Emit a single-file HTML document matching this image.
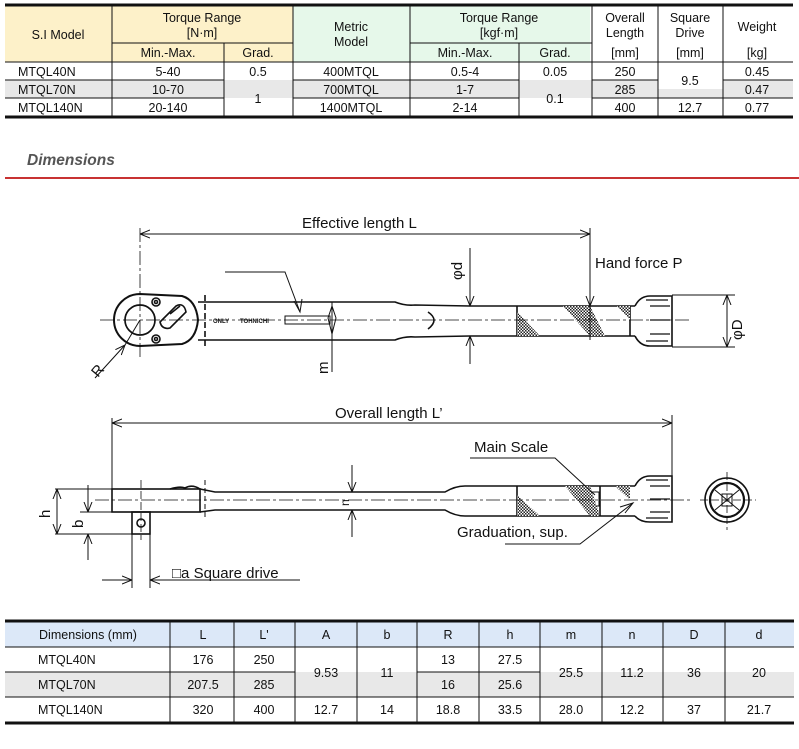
<!DOCTYPE html>
<html><head><meta charset="utf-8"><style>
html,body{margin:0;padding:0;background:#fff;width:799px;height:749px;overflow:hidden}
svg{display:block}
text{font-family:"Liberation Sans",Arial,sans-serif;fill:#111}
</style></head><body>
<svg width="799" height="749" viewBox="0 0 799 749" xmlns="http://www.w3.org/2000/svg">
<defs>
<pattern id="hatch" width="3" height="3" patternUnits="userSpaceOnUse"><rect width="3" height="3" fill="#fff"/><rect width="1.5" height="1.5" fill="#222"/><rect x="1.5" y="1.5" width="1.5" height="1.5" fill="#222"/></pattern>
<marker id="ar" viewBox="0 0 10 10" refX="10" refY="5" markerWidth="10" markerHeight="10" orient="auto-start-reverse" markerUnits="userSpaceOnUse"><path d="M0,1 L10,5 L0,9" fill="none" stroke="#111" stroke-width="1"/></marker>
</defs>

<!-- TOP TABLE -->
<rect x="5" y="6" width="288" height="56" fill="#fdf1c9"/>
<rect x="293" y="6" width="297" height="56" fill="#e6f8ea"/>
<rect x="5" y="80" width="788" height="18" fill="#e8e8e8"/>
<rect x="224" y="89" width="69" height="9" fill="#e8e8e8"/>
<rect x="224" y="98" width="69" height="18" fill="#fff"/>
<rect x="519" y="98" width="73" height="18" fill="#fff"/>
<rect x="658" y="80" width="65" height="9" fill="#fff"/>
<g stroke="#111" stroke-width="1" fill="none">
<line x1="5" y1="5" x2="793" y2="5" stroke-width="3"/>
<line x1="5" y1="117" x2="793" y2="117" stroke-width="3"/>
<line x1="112" y1="43" x2="293" y2="43"/><line x1="410" y1="43" x2="592" y2="43"/>
<line x1="5" y1="62" x2="793" y2="62"/>
<line x1="5" y1="80" x2="224" y2="80"/><line x1="293" y1="80" x2="519" y2="80"/><line x1="592" y1="80" x2="658" y2="80"/><line x1="723" y1="80" x2="793" y2="80"/>
<line x1="5" y1="98" x2="224" y2="98"/><line x1="293" y1="98" x2="519" y2="98"/><line x1="592" y1="98" x2="793" y2="98"/>
<line x1="112" y1="6" x2="112" y2="116"/><line x1="293" y1="6" x2="293" y2="116"/><line x1="410" y1="6" x2="410" y2="116"/>
<line x1="224" y1="43" x2="224" y2="116"/><line x1="519" y1="43" x2="519" y2="116"/>
<line x1="592" y1="6" x2="592" y2="116"/><line x1="658" y1="6" x2="658" y2="116"/><line x1="723" y1="6" x2="723" y2="116"/>
</g>
<g font-size="12.5" text-anchor="middle">
<text x="58" y="39">S.I Model</text>
<text x="202" y="22">Torque Range</text><text x="202" y="37">[N·m]</text>
<text x="168" y="57">Min.-Max.</text><text x="258" y="57">Grad.</text>
<text x="351" y="31">Metric</text><text x="351" y="46">Model</text>
<text x="499" y="22">Torque Range</text><text x="499" y="37">[kgf·m]</text>
<text x="465" y="57">Min.-Max.</text><text x="555" y="57">Grad.</text>
<text x="625" y="22">Overall</text><text x="625" y="37">Length</text><text x="625" y="57">[mm]</text>
<text x="690" y="22">Square</text><text x="690" y="37">Drive</text><text x="690" y="57">[mm]</text>
<text x="757" y="31">Weight</text><text x="757" y="57">[kg]</text>
<text x="168" y="76">5-40</text><text x="168" y="94">10-70</text><text x="168" y="112">20-140</text>
<text x="258" y="76">0.5</text><text x="258" y="103">1</text>
<text x="351" y="76">400MTQL</text><text x="351" y="94">700MTQL</text><text x="351" y="112">1400MTQL</text>
<text x="465" y="76">0.5-4</text><text x="465" y="94">1-7</text><text x="465" y="112">2-14</text>
<text x="555" y="76">0.05</text><text x="555" y="103">0.1</text>
<text x="625" y="76">250</text><text x="625" y="94">285</text><text x="625" y="112">400</text>
<text x="690" y="85">9.5</text><text x="690" y="112">12.7</text>
<text x="757" y="76">0.45</text><text x="757" y="94">0.47</text><text x="757" y="112">0.77</text>
</g>
<g font-size="12.5"><text x="18" y="76">MTQL40N</text><text x="18" y="94">MTQL70N</text><text x="18" y="112">MTQL140N</text></g>

<!-- Dimensions header -->
<text x="27" y="165" font-size="15.5" font-weight="bold" font-style="italic" style="fill:#555">Dimensions</text>
<line x1="5" y1="178" x2="799" y2="178" stroke="#c83232" stroke-width="2"/>

<!-- TOP WRENCH -->
<g stroke="#111" stroke-width="1.6" fill="none">
<path d="M140,294 L182,296 Q196,300 198,320 Q196,340 182,344 L140,346 A26,26 0 0 1 140,294 Z" stroke-width="2"/>
<circle cx="140" cy="320" r="15" stroke-width="1.7"/>
<circle cx="156" cy="302" r="4"/><circle cx="156" cy="302" r="1.5"/>
<circle cx="156" cy="339" r="4"/><circle cx="156" cy="339" r="1.5"/>
<path d="M160,322 L176,306 Q184,302 186,312 L170,328 Q162,330 160,322 Z"/>
<path d="M170,314 L180,306"/>
<path d="M198,302 L395,302 Q405,306 415,305 L470,306 L635,306"/>
<path d="M198,340 L395,340 Q405,336 415,337 L470,336 L635,336"/>
<line x1="205" y1="295" x2="205" y2="346" stroke-dasharray="6,3"/>
<path d="M428,312 Q440,320 428,329"/>
<line x1="517" y1="306" x2="517" y2="336"/>
<line x1="630" y1="306" x2="630" y2="336"/>
<path d="M635,306 Q640,296 650,296 L672,296 L672,346 L650,346 Q640,346 635,336"/>
<path d="M650,306 L670,306 M650,320 L670,320 M650,334 L670,334 M646,300 L668,300 M646,341 L668,341" stroke-width="1.2"/>
<rect x="285" y="316" width="45" height="8" stroke-width="1"/>
</g>
<polygon points="517,312 540,336 517,336" fill="url(#hatch)"/>
<polygon points="563,306 590,306 605,336 590,336" fill="url(#hatch)"/>
<polygon points="617,306 630,306 630,320" fill="url(#hatch)"/>
<text x="213" y="323" font-size="6" font-weight="bold">ONLY</text>
<text x="240" y="323" font-size="6" font-weight="bold">TOHNICHI</text>
<line x1="100" y1="320" x2="690" y2="320" stroke="#111" stroke-width="0.8" stroke-dasharray="14,3,3,3"/>
<line x1="140" y1="228" x2="140" y2="358" stroke="#111" stroke-width="0.8" stroke-dasharray="14,3,3,3"/>
<g stroke="#111" stroke-width="1" fill="none">
<line x1="140" y1="234" x2="590" y2="234" marker-start="url(#ar)" marker-end="url(#ar)"/>
<line x1="590" y1="228" x2="590" y2="236"/>
<line x1="590" y1="234" x2="590" y2="306" marker-end="url(#ar)"/>
<line x1="590" y1="306" x2="590" y2="340"/>
<line x1="470" y1="248" x2="470" y2="306" marker-end="url(#ar)"/>
<line x1="470" y1="364" x2="470" y2="336" marker-end="url(#ar)"/>
<line x1="332" y1="372" x2="332" y2="302" />
<path d="M332,306 L328,318 L332,334 L336,318 Z"/>
<line x1="672" y1="295" x2="735" y2="295"/><line x1="672" y1="347" x2="735" y2="347"/>
<line x1="727" y1="320" x2="727" y2="295" marker-end="url(#ar)"/>
<line x1="727" y1="320" x2="727" y2="347" marker-end="url(#ar)"/>
<polyline points="225,272 285,272 300,312" />
<path d="M294,301 L300,312 L302,299" />
<line x1="95" y1="378" x2="125" y2="345" marker-end="url(#ar)"/>
<line x1="125" y1="345" x2="140" y2="320"/>
</g>
<text x="302" y="228" font-size="15">Effective length L</text>
<text x="595" y="268" font-size="15">Hand force P</text>
<text font-size="15" transform="translate(462,280) rotate(-90)">φd</text>
<text font-size="15" transform="translate(742,340) rotate(-90)">φD</text>
<text font-size="15" transform="translate(328,374) rotate(-90)">m</text>
<text font-size="15" transform="translate(98,378) rotate(-50)">R</text>

<!-- BOTTOM WRENCH -->
<g stroke="#111" stroke-width="1.6" fill="none">
<rect x="112" y="489" width="88" height="23"/>
<path d="M170,489 Q180,486 185,488 Q192,484 200,489"/>
<path d="M200,489 L215,492 L445,492 Q455,486 465,486 L635,486"/>
<path d="M200,512 L215,510 L445,510 Q455,516 465,516 L635,516"/>
<line x1="517" y1="486" x2="517" y2="516"/>
<line x1="600" y1="486" x2="600" y2="516"/>
<line x1="205" y1="480" x2="205" y2="520" stroke-dasharray="5,3" stroke-width="1"/>
<path d="M635,486 Q640,476 650,476 L672,476 L672,522 L650,522 Q640,522 635,516"/>
<path d="M650,486 L670,486 M650,499 L670,499 M650,512 L670,512 M646,480 L668,480 M646,518 L668,518" stroke-width="1.2"/>
<rect x="132" y="512" width="18" height="22"/>
<circle cx="141" cy="523" r="4"/>
<rect x="592" y="492" width="7" height="14" stroke-width="1"/>
<circle cx="727" cy="500" r="22"/><circle cx="727" cy="500" r="17" stroke-width="2.2"/>
<path d="M715,490 L739,510 M739,490 L715,510" stroke-width="1"/>
<rect x="722" y="494" width="10" height="12" stroke-width="1"/>
</g>
<polygon points="517,495 540,516 517,516" fill="url(#hatch)"/>
<polygon points="565,486 590,486 600,516 590,516" fill="url(#hatch)"/>
<polygon points="615,486 630,486 630,500" fill="url(#hatch)"/>
<line x1="95" y1="500" x2="690" y2="500" stroke="#111" stroke-width="0.8" stroke-dasharray="14,3,3,3"/>
<line x1="700" y1="500" x2="756" y2="500" stroke="#111" stroke-width="0.8" stroke-dasharray="8,3"/>
<line x1="727" y1="472" x2="727" y2="530" stroke="#111" stroke-width="0.8" stroke-dasharray="8,3"/>
<line x1="141" y1="480" x2="141" y2="540" stroke="#111" stroke-width="0.8" stroke-dasharray="8,3"/>
<g stroke="#111" stroke-width="1" fill="none">
<line x1="112" y1="423" x2="672" y2="423" marker-start="url(#ar)" marker-end="url(#ar)"/>
<line x1="112" y1="418" x2="112" y2="512"/><line x1="672" y1="415" x2="672" y2="500"/>
<line x1="55" y1="489" x2="112" y2="489"/><line x1="55" y1="534" x2="132" y2="534"/><line x1="80" y1="512" x2="112" y2="512"/>
<line x1="57" y1="511" x2="57" y2="489" marker-end="url(#ar)"/><line x1="57" y1="511" x2="57" y2="534" marker-end="url(#ar)"/>
<line x1="88" y1="485" x2="88" y2="512" marker-end="url(#ar)"/><line x1="88" y1="560" x2="88" y2="534" marker-end="url(#ar)"/>
<line x1="132" y1="534" x2="132" y2="588"/><line x1="150" y1="534" x2="150" y2="588"/>
<line x1="102" y1="580" x2="132" y2="580" marker-end="url(#ar)"/>
<line x1="300" y1="580" x2="150" y2="580" marker-end="url(#ar)"/>
<line x1="352" y1="465" x2="352" y2="492" marker-end="url(#ar)"/>
<line x1="352" y1="537" x2="352" y2="510" marker-end="url(#ar)"/>
<polyline points="470,458 555,458 595,495"/>
<polyline points="505,544 580,544 633,503"/>
<path d="M620,507 L633,503 L625,513"/>
</g>
<text x="335" y="418" font-size="15">Overall length L’</text>
<text x="474" y="452" font-size="15">Main Scale</text>
<text x="457" y="537" font-size="15">Graduation, sup.</text>
<text x="172" y="578" font-size="15">□a Square drive</text>
<text font-size="15" transform="translate(50,518) rotate(-90)">h</text>
<text font-size="15" transform="translate(83,528) rotate(-90)">b</text>
<text font-size="12" transform="translate(349,506) rotate(-90)">n</text>

<!-- BOTTOM TABLE -->
<rect x="5" y="622" width="789" height="25" fill="#dce8f8"/>
<rect x="5" y="672" width="789" height="25" fill="#e8e8e8"/>
<g stroke="#111" stroke-width="1">
<line x1="5" y1="621" x2="794" y2="621" stroke-width="3"/>
<line x1="5" y1="723" x2="794" y2="723" stroke-width="3"/>
<line x1="5" y1="647" x2="794" y2="647"/>
<line x1="5" y1="672" x2="295" y2="672"/><line x1="417" y1="672" x2="540" y2="672"/>
<line x1="5" y1="697" x2="794" y2="697"/>
<line x1="170" y1="622" x2="170" y2="722"/><line x1="234" y1="622" x2="234" y2="722"/><line x1="295" y1="622" x2="295" y2="722"/><line x1="357" y1="622" x2="357" y2="722"/><line x1="417" y1="622" x2="417" y2="722"/><line x1="479" y1="622" x2="479" y2="722"/><line x1="540" y1="622" x2="540" y2="722"/><line x1="602" y1="622" x2="602" y2="722"/><line x1="663" y1="622" x2="663" y2="722"/><line x1="725" y1="622" x2="725" y2="722"/>
</g>
<g font-size="12.5" text-anchor="middle">
<text x="88" y="639">Dimensions (mm)</text>
<text x="203" y="639">L</text><text x="264" y="639">L'</text><text x="326" y="639">A</text><text x="387" y="639">b</text><text x="448" y="639">R</text><text x="510" y="639">h</text><text x="571" y="639">m</text><text x="632" y="639">n</text><text x="694" y="639">D</text><text x="759" y="639">d</text>
<text x="203" y="664">176</text><text x="203" y="689">207.5</text><text x="203" y="714">320</text>
<text x="264" y="664">250</text><text x="264" y="689">285</text><text x="264" y="714">400</text>
<text x="326" y="677">9.53</text><text x="326" y="714">12.7</text>
<text x="387" y="677">11</text><text x="387" y="714">14</text>
<text x="448" y="664">13</text><text x="448" y="689">16</text><text x="448" y="714">18.8</text>
<text x="510" y="664">27.5</text><text x="510" y="689">25.6</text><text x="510" y="714">33.5</text>
<text x="571" y="677">25.5</text><text x="571" y="714">28.0</text>
<text x="632" y="677">11.2</text><text x="632" y="714">12.2</text>
<text x="694" y="677">36</text><text x="694" y="714">37</text>
<text x="759" y="677">20</text><text x="759" y="714">21.7</text>
</g>
<g font-size="12.5"><text x="38" y="664">MTQL40N</text><text x="38" y="689">MTQL70N</text><text x="38" y="714">MTQL140N</text></g>
</svg>
</body></html>
